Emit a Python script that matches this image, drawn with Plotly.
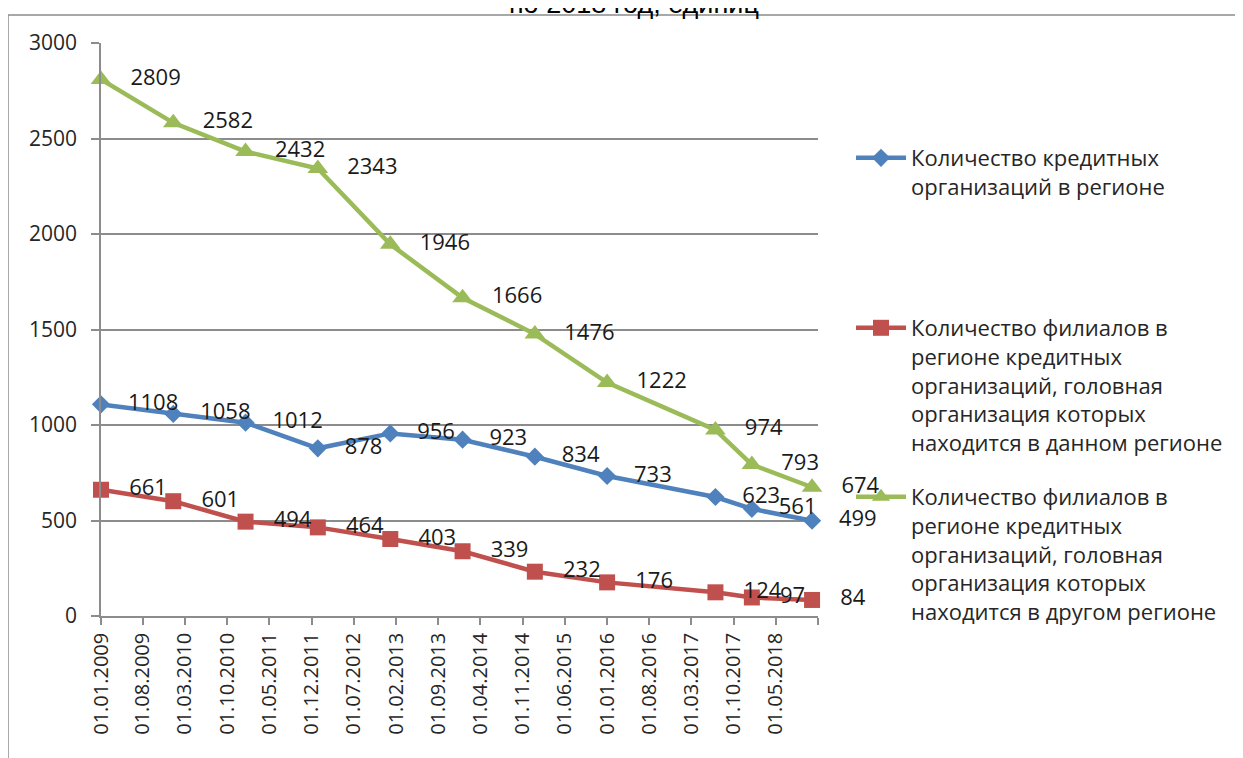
import plotly.graph_objects as go

# ---- data ----
dates = ["2009-01-01", "2010-01-01", "2011-01-01", "2012-01-01", "2013-01-01",
         "2014-01-01", "2015-01-01", "2016-01-01", "2017-07-01", "2018-01-01",
         "2018-11-01"]
credit_orgs = [1108, 1058, 1012, 878, 956, 923, 834, 733, 623, 561, 499]
branches_same_region = [661, 601, 494, 464, 403, 339, 232, 176, 124, 97, 84]
branches_other_region = [2809, 2582, 2432, 2343, 1946, 1666, 1476, 1222, 974, 793, 674]

series_names = [
    "Количество кредитных<br>организаций в регионе",
    "Количество филиалов в<br>регионе кредитных<br>организаций, головная<br>организация которых<br>находится в данном регионе",
    "Количество филиалов в<br>регионе кредитных<br>организаций, головная<br>организация которых<br>находится в другом регионе",
]

tick_dates = ["2009-01-01", "2009-08-01", "2010-03-01", "2010-10-01", "2011-05-01",
              "2011-12-01", "2012-07-01", "2013-02-01", "2013-09-01", "2014-04-01",
              "2014-11-01", "2015-06-01", "2016-01-01", "2016-08-01", "2017-03-01",
              "2017-10-01", "2018-05-01", "2018-12-01"]
tick_labels = ["01.01.2009", "01.08.2009", "01.03.2010", "01.10.2010", "01.05.2011",
               "01.12.2011", "01.07.2012", "01.02.2013", "01.09.2013", "01.04.2014",
               "01.11.2014", "01.06.2015", "01.01.2016", "01.08.2016", "01.03.2017",
               "01.10.2017", "01.05.2018", ""]

title_text = "по 2018 год, единиц"

# ---- styling ----
FONT = "Open Sans"
GRID = "#8c8c8c"
OFF = 8  # page body margin
W, H = 1243, 758
L, T = 101 - OFF, 43 - OFF
PW, PH = 717, 573
R = W - L - PW
B = H - T - PH


def px_x(px):
    return (px - OFF - L) / PW


def px_y(py):
    return (T + PH - (py - OFF)) / PH


colors = ["#4F81BD", "#C0504D", "#9BBB59"]
symbols = ["diamond", "square", "triangle-up"]
sizes = [14, 16, 18]
values = [credit_orgs, branches_same_region, branches_other_region]
legends = ["legend", "legend2", "legend3"]

fig = go.Figure()
pad = "\u00a0\u00a0\u00a0"
for name, vals, col, sym, sz, lg in zip(series_names, values, colors, symbols, sizes, legends):
    fig.add_trace(go.Scatter(
        x=dates, y=vals, name=name, mode="lines+markers+text",
        line=dict(color=col, width=4.5),
        marker=dict(symbol=sym, size=sz, color=col, line=dict(width=0)),
        text=[pad + str(v) for v in vals],
        textposition="middle right",
        textfont=dict(family=FONT, size=22, color="#1a1a1a"),
        cliponaxis=False,
        legend=lg,
    ))

legend_common = dict(
    font=dict(family=FONT, size=22, color="#262626"),
    bgcolor="rgba(0,0,0,0)", borderwidth=0,
    xanchor="left", yanchor="top", valign="top",
    itemwidth=50,
)

fig.update_layout(
    width=W, height=H,
    margin=dict(l=L, r=R, t=T, b=B, autoexpand=False),
    paper_bgcolor="white", plot_bgcolor="white",
    showlegend=True,
    legend=dict(x=px_x(851), y=px_y(137), **legend_common),
    legend2=dict(x=px_x(851), y=px_y(307), **legend_common),
    legend3=dict(x=px_x(851), y=px_y(476), **legend_common),
    xaxis=dict(
        type="date",
        range=["2009-01-01", "2018-12-01"],
        tickmode="array", tickvals=tick_dates, ticktext=tick_labels,
        tickangle=-90,
        tickfont=dict(family=FONT, size=20, color="#262626"),
        showgrid=False,
        showline=True, linecolor=GRID, linewidth=1.5,
        ticks="outside", ticklen=7, tickcolor=GRID, tickwidth=1.5,
        zeroline=False,
    ),
    yaxis=dict(
        range=[0, 3000], dtick=500, tick0=0,
        tickfont=dict(family=FONT, size=21, color="#262626"),
        showgrid=True, gridcolor=GRID, gridwidth=1.5,
        showline=True, linecolor=GRID, linewidth=1.5,
        ticks="outside", ticklen=8, tickcolor=GRID, tickwidth=1.5,
        ticklabelstandoff=10,
        zeroline=False,
    ),
    annotations=[dict(
        text=title_text, xref="paper", yref="paper",
        x=px_x(634), y=px_y(4), xanchor="center", yanchor="middle",
        showarrow=False,
        font=dict(family="Liberation Sans", size=27, color="#000000"),
    )],
    shapes=[dict(
        type="rect", xref="paper", yref="paper",
        x0=px_x(8), x1=px_x(1270), y0=px_y(790), y1=px_y(15),
        line=dict(color=GRID, width=1.5), fillcolor="rgba(0,0,0,0)",
        layer="below",
    )],
)

fig.write_html("out.html")
